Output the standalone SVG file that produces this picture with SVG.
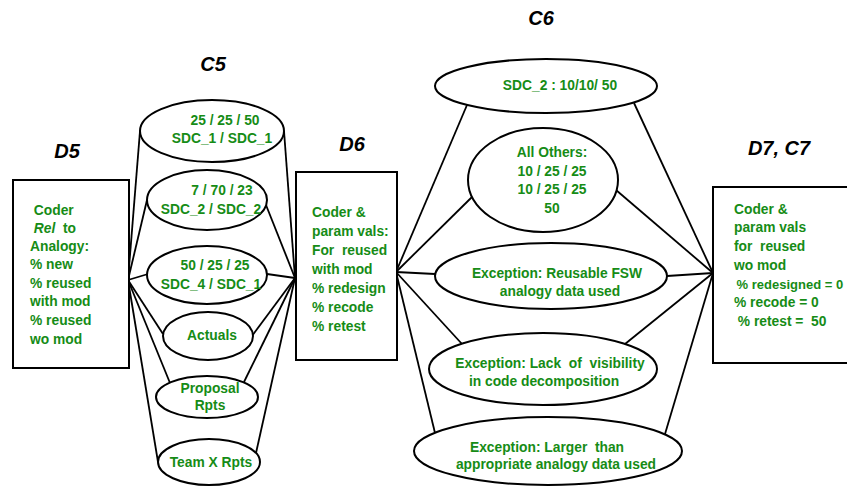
<svg xmlns="http://www.w3.org/2000/svg" width="847" height="497" viewBox="0 0 847 497">
<style>
.s{fill:#fff;stroke:#000;stroke-width:2}
.c line{stroke:#000;stroke-width:1.8}
.t{font-family:"Liberation Sans",Arial,sans-serif;font-weight:bold;font-size:13.8px;fill:#168c16}
.m{text-anchor:middle}
.h{font-family:"Liberation Sans",Arial,sans-serif;font-weight:bold;font-style:italic;font-size:20px;fill:#000;text-anchor:middle}
</style>
<rect width="847" height="497" fill="#fff"/>
<g id="connectors" class="c">
<line x1="128" y1="280" x2="140" y2="131"/>
<line x1="128" y1="280" x2="147" y2="200"/>
<line x1="128" y1="280" x2="148" y2="274"/>
<line x1="128" y1="280" x2="163" y2="334"/>
<line x1="128" y1="280" x2="170" y2="383"/>
<line x1="128" y1="280" x2="158" y2="462"/>
<line x1="295" y1="278" x2="284" y2="131"/>
<line x1="295" y1="278" x2="266" y2="205"/>
<line x1="295" y1="278" x2="267" y2="274"/>
<line x1="295" y1="278" x2="252" y2="336"/>
<line x1="295" y1="278" x2="244" y2="382"/>
<line x1="295" y1="278" x2="256" y2="453"/>
<line x1="396" y1="272" x2="467" y2="105"/>
<line x1="396" y1="272" x2="472" y2="197"/>
<line x1="396" y1="272" x2="435" y2="274"/>
<line x1="396" y1="272" x2="462" y2="344"/>
<line x1="396" y1="272" x2="435" y2="433"/>
<line x1="713" y1="273" x2="634" y2="103"/>
<line x1="713" y1="273" x2="616" y2="190"/>
<line x1="713" y1="273" x2="667" y2="276"/>
<line x1="713" y1="273" x2="625" y2="344"/>
<line x1="713" y1="273" x2="665" y2="434"/>
</g>
<text class="h" x="213" y="71">C5</text>
<text class="h" x="67" y="158">D5</text>
<text class="h" x="352" y="151">D6</text>
<text class="h" x="541" y="25">C6</text>
<text class="h" x="779" y="155">D7, C7</text>
<g id="D5">
<rect class="s" x="13" y="180" width="116" height="188"/>
<text class="t" xml:space="preserve"><tspan x="30" y="215"> Coder</tspan><tspan x="30" y="233"> <tspan font-style="italic">Rel</tspan>  to</tspan><tspan x="30" y="251">Analogy:</tspan><tspan x="30" y="269">% new</tspan><tspan x="30" y="288">% reused</tspan><tspan x="30" y="306">with mod</tspan><tspan x="30" y="325">% reused</tspan><tspan x="30" y="344">wo mod</tspan></text>
</g>
<g id="C5_1">
<ellipse class="s" cx="212" cy="131" rx="72" ry="31"/>
<text class="t m"><tspan x="225" y="125">25 / 25 / 50</tspan><tspan x="222" y="143">SDC_1 / SDC_1</tspan></text>
</g>
<g id="C5_2">
<ellipse class="s" cx="207" cy="200" rx="60" ry="30"/>
<text class="t m"><tspan x="222" y="195">7 / 70 / 23</tspan><tspan x="211" y="214">SDC_2 / SDC_2</tspan></text>
</g>
<g id="C5_3">
<ellipse class="s" cx="207" cy="275" rx="60" ry="29"/>
<text class="t m"><tspan x="215" y="270">50 / 25 / 25</tspan><tspan x="211" y="289">SDC_4 / SDC_1</tspan></text>
</g>
<g id="C5_actuals">
<ellipse class="s" cx="208" cy="336" rx="45" ry="24"/>
<text class="t m" x="212" y="340">Actuals</text>
</g>
<g id="C5_proposal">
<ellipse class="s" cx="207" cy="397" rx="51" ry="21"/>
<text class="t m"><tspan x="210" y="393">Proposal</tspan><tspan x="210" y="410">Rpts</tspan></text>
</g>
<g id="C5_teamx">
<ellipse class="s" cx="209" cy="462" rx="51" ry="23"/>
<text class="t m" x="211" y="467">Team X Rpts</text>
</g>
<g id="D6">
<rect class="s" x="296" y="172" width="101" height="188"/>
<text class="t" xml:space="preserve"><tspan x="312" y="217">Coder &amp;</tspan><tspan x="312" y="236">param vals:</tspan><tspan x="312" y="255">For  reused</tspan><tspan x="312" y="274">with mod</tspan><tspan x="312" y="293">% redesign</tspan><tspan x="312" y="312">% recode</tspan><tspan x="312" y="331">% retest</tspan></text>
</g>
<g id="C6_1">
<ellipse class="s" cx="546" cy="86" rx="111" ry="27"/>
<text class="t m" x="560" y="90">SDC_2 : 10/10/ 50</text>
</g>
<g id="C6_2">
<ellipse class="s" cx="543" cy="180" rx="75" ry="52"/>
<text class="t m"><tspan x="552" y="157">All Others:</tspan><tspan x="552" y="176">10 / 25 / 25</tspan><tspan x="552" y="194">10 / 25 / 25</tspan><tspan x="552" y="213">50</tspan></text>
</g>
<g id="C6_3">
<ellipse class="s" cx="551" cy="276" rx="116" ry="33"/>
<text class="t m"><tspan x="557" y="278">Exception: Reusable FSW</tspan><tspan x="560" y="296">analogy data used</tspan></text>
</g>
<g id="C6_4">
<ellipse class="s" cx="543" cy="369" rx="114" ry="36"/>
<text class="t m" xml:space="preserve"><tspan x="550" y="368">Exception: Lack  of  visibility</tspan><tspan x="544" y="386">in code decomposition</tspan></text>
</g>
<g id="C6_5">
<ellipse class="s" cx="548" cy="451" rx="134" ry="34"/>
<text class="t m" xml:space="preserve"><tspan x="547" y="452">Exception: Larger  than</tspan><tspan x="556" y="469">appropriate analogy data used</tspan></text>
</g>
<g id="D7C7">
<rect class="s" x="713" y="187" width="150" height="176"/>
<text class="t" xml:space="preserve"><tspan x="734" y="214">Coder &amp;</tspan><tspan x="734" y="232">param vals</tspan><tspan x="734" y="251">for  reused</tspan><tspan x="734" y="270">wo mod</tspan><tspan x="733" y="289" font-size="13px"> % redesigned = 0</tspan><tspan x="734" y="307">% recode = 0</tspan><tspan x="734" y="326"> % retest =  50</tspan></text>
</g>
</svg>
